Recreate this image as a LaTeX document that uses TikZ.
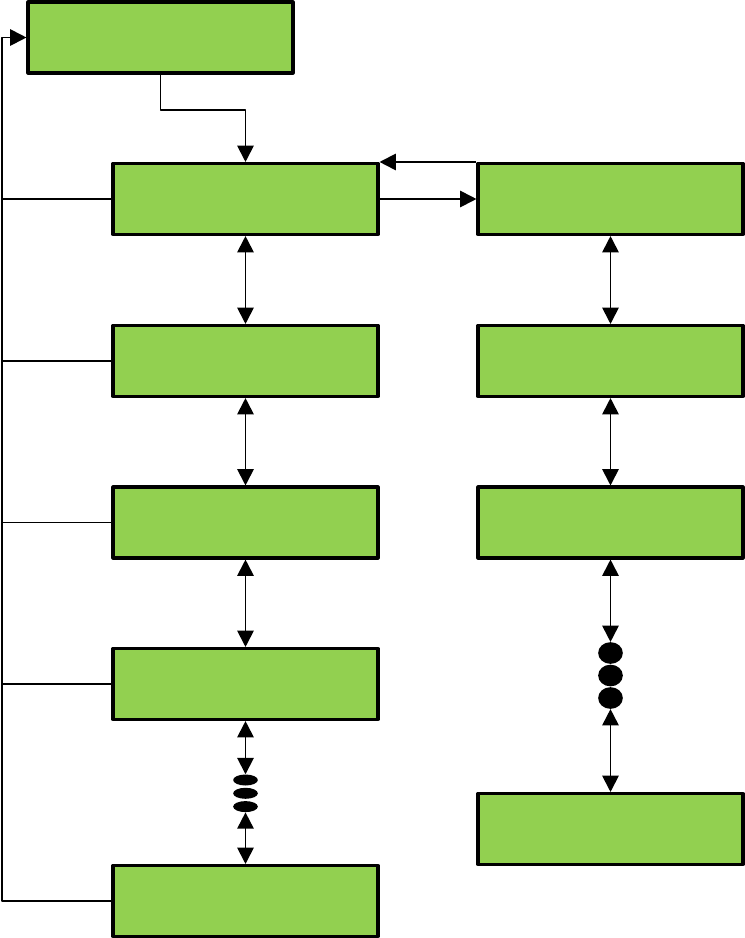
\documentclass[tikz,border=0pt]{standalone}
\usetikzlibrary{arrows.meta,shapes.geometric}
\definecolor{boxgreen}{RGB}{146,208,80}
\begin{document}
\begin{tikzpicture}[x=0.03cm,y=-0.03cm,line join=round,
		>={Triangle[length=14pt,width=14pt]},
		blok/.style={draw,fill=boxgreen,line width=2.6pt,minimum width=7.95cm,minimum height=2.13cm,inner sep=0pt},
		dotL/.style={ellipse,fill=black,minimum width=0.74cm,minimum height=0.33cm,inner sep=0pt},
		dotR/.style={ellipse,fill=black,minimum width=0.74cm,minimum height=0.65cm,inner sep=0pt},
		wire/.style={line width=1.6pt}]
	\useasboundingbox (0,0) rectangle (744,938);
	\def\xl{245.5} \def\xr{610.5}
	% top box
	\node[blok] (top) at (160.5,37.5) {};
	% left column
	\node[blok] (L1) at (\xl,199) {};
	\node[blok] (L2) at (\xl,361) {};
	\node[blok] (L3) at (\xl,522.5) {};
	\node[blok] (L4) at (\xl,684) {};
	\node[blok] (L5) at (\xl,901) {};
	% right column
	\node[blok] (R1) at (\xr,199) {};
	\node[blok] (R2) at (\xr,361) {};
	\node[blok] (R3) at (\xr,522.5) {};
	\node[blok] (R4) at (\xr,829) {};
	% dots
	\node[dotL] (ld1) at (\xl,780) {};
	\node[dotL] (ld2) at (\xl,793.3) {};
	\node[dotL] (ld3) at (\xl,806.6) {};
	\node[dotR] (rd1) at (\xr,653) {};
	\node[dotR] (rd2) at (\xr,675.5) {};
	\node[dotR] (rd3) at (\xr,698) {};
	% connectors
	\coordinate (bus) at (2,901);
	\coordinate (bend) at (0,110);
	\draw[wire,->] (L5.west) -- (bus) |- (top.west);
	\foreach \n in {L1,L2,L3,L4}
		\draw[wire] (\n.west) -- (\n.west -| bus);
	\draw[wire,->] (top.south) |- (bend -| L1.north) -- (L1.north);
	\draw[wire,<-] (L1.north east) -- (R1.north west);
	\draw[wire,->] (L1.east) -- (R1.west);
	\draw[wire,<->] (L1) -- (L2);
	\draw[wire,<->] (L2) -- (L3);
	\draw[wire,<->] (L3) -- (L4);
	\draw[wire,<->] (L4) -- (ld1);
	\draw[wire,<->] (ld3) -- (L5);
	\draw[wire,<->] (R1) -- (R2);
	\draw[wire,<->] (R2) -- (R3);
	\draw[wire,<->] (R3) -- (rd1);
	\draw[wire,<->] (rd3) -- (R4);
\end{tikzpicture}
\end{document}
